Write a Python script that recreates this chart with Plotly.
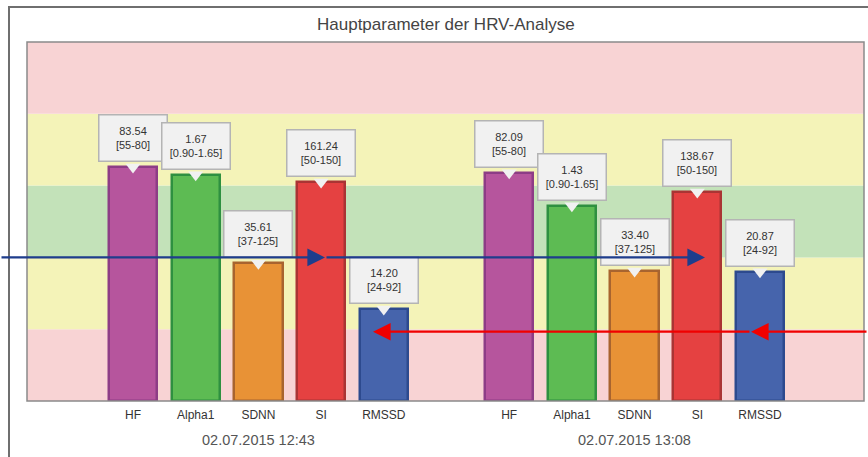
import plotly.graph_objects as go

# ---- data ----
params = ["HF", "Alpha1", "SDNN", "SI", "RMSSD"]
sessions = ["02.07.2015 12:43", "02.07.2015 13:08"]
values_s1 = ["83.54", "1.67", "35.61", "161.24", "14.20"]
values_s2 = ["82.09", "1.43", "33.40", "138.67", "20.87"]
ranges = ["[55-80]", "[0.90-1.65]", "[37-125]", "[50-150]", "[24-92]"]
# bar heights on the normalized band scale (0-5, each band = 1 unit)
heights_s1 = [3.26, 3.15, 1.92, 3.05, 1.28]
heights_s2 = [3.18, 2.72, 1.81, 2.91, 1.80]
band_edges = [0, 1, 2, 3, 4, 5]

fill_colors = ["#b6559d", "#5dbb53", "#e89236", "#e54141", "#4664ac"]
line_colors = ["#8d3d86", "#2e9040", "#a8642f", "#aa3434", "#2d4a8e"]
band_colors = ["#f8d3d4", "#f4f3b8", "#c3e2b9", "#f4f3b8", "#f8d3d4"]

W, H = 868, 457
ml, mr, mt, mb = 27, 4, 42, 56
pw = W - ml - mr
ph = H - mt - mb

slot = 62.7
x_left = -(133 - 27) / slot
x_right = 10 + (864 - 760) / slot

pos1 = [0, 1, 2, 3, 4]
pos2 = [6, 7, 8, 9, 10]

FONT = "Liberation Sans, Arial"

fig = go.Figure()

# background bands
for i in range(5):
    fig.add_shape(type="rect", xref="paper", yref="y", x0=0, x1=1,
                  y0=band_edges[i], y1=band_edges[i + 1],
                  fillcolor=band_colors[i], line_width=0, layer="below")

for pos, hts in [(pos1, heights_s1), (pos2, heights_s2)]:
    fig.add_trace(go.Bar(
        x=pos, y=hts, width=0.77,
        marker=dict(color=fill_colors, line=dict(color=line_colors, width=2.5)),
        showlegend=False, hoverinfo="skip"))
    # callout pointer triangles
    fig.add_trace(go.Scatter(
        x=pos, y=hts, mode="markers",
        marker=dict(symbol="triangle-down", size=13, color="#f1f1f1",
                    line=dict(width=0)),
        showlegend=False, hoverinfo="skip"))

# callout boxes
for pos, hts, vals in [(pos1, heights_s1, values_s1), (pos2, heights_s2, values_s2)]:
    for p, h, v, r in zip(pos, hts, vals, ranges):
        fig.add_annotation(
            x=p, y=h, xref="x", yref="y", yanchor="bottom", yshift=5,
            text=f"{v}<br>{r}", showarrow=False,
            font=dict(family=FONT, size=11, color="#333333"),
            bgcolor="#f1f1f1", bordercolor="#b4b4b4", borderwidth=1.5,
            borderpad=2, width=63, height=41, align="center")

# plot border
fig.add_shape(type="rect", xref="paper", yref="paper", x0=0, x1=1, y0=0, y1=1,
              line=dict(color="#8a8a8a", width=1.5), fillcolor="rgba(0,0,0,0)",
              layer="above")
# outer frame
fig.add_shape(type="rect", xref="paper", yref="paper",
              x0=(9 - ml) / pw, x1=1.2, y0=-0.3, y1=1 + (mt - 7) / ph,
              line=dict(color="#6f6f6f", width=2), fillcolor="rgba(0,0,0,0)",
              layer="above")

# title
fig.add_annotation(text="Hauptparameter der HRV-Analyse", xref="paper", yref="paper",
                   x=0.5, y=1 + (mt - 24) / ph, yanchor="middle", showarrow=False,
                   font=dict(family=FONT, size=17, color="#444444"))

# session labels
for pos, s in [(pos1, sessions[0]), (pos2, sessions[1])]:
    fig.add_annotation(text=s, xref="x", yref="paper", x=pos[2], y=0,
                       yshift=-39, yanchor="middle", showarrow=False,
                       font=dict(family=FONT, size=14.5, color="#555555"))

def px2paper(px):
    return (px - ml) / pw

# blue arrows
blue = "#1e3d8c"
for tip, tail in [(325, -5), (705, 325)]:
    fig.add_annotation(x=px2paper(tip), y=2.0, xref="paper", yref="y",
                       ax=tail - tip, ay=0, axref="pixel", ayref="pixel",
                       text="", showarrow=True, arrowhead=2, arrowsize=1.6,
                       arrowwidth=2.2, arrowcolor=blue)
# red arrows
red = "#f00000"
for tip, tail in [(373, 751), (751, 880)]:
    fig.add_annotation(x=px2paper(tip), y=0.965, xref="paper", yref="y",
                       ax=tail - tip, ay=0, axref="pixel", ayref="pixel",
                       text="", showarrow=True, arrowhead=2, arrowsize=1.6,
                       arrowwidth=2.2, arrowcolor=red)

fig.update_layout(
    width=W, height=H,
    margin=dict(l=ml, r=mr, t=mt, b=mb),
    paper_bgcolor="white", plot_bgcolor="rgba(0,0,0,0)",
    xaxis=dict(range=[x_left, x_right], tickvals=pos1 + pos2, ticktext=params + params,
               showgrid=False, zeroline=False, showline=False, ticks="outside",
               ticklen=3, tickcolor="rgba(0,0,0,0)",
               tickfont=dict(family=FONT, size=12, color="#333333")),
    yaxis=dict(range=[0, 5], showgrid=False, zeroline=False, showticklabels=False,
               showline=False, ticks=""),
    bargap=0,
)

fig.write_html("out.html", config={"displayModeBar": False},
               post_script="document.body.style.margin='0';document.body.style.overflow='hidden';")
